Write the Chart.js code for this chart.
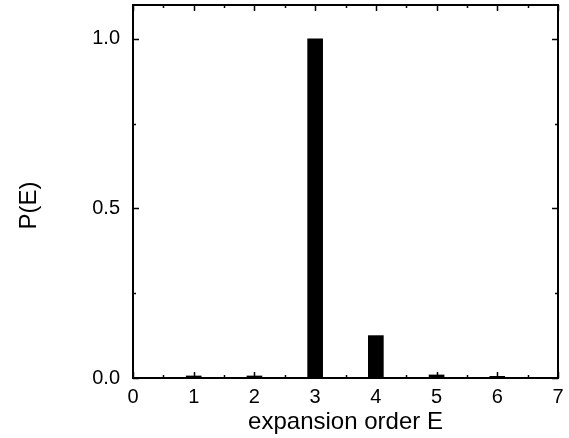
<!DOCTYPE html>
<html>
<head>
<meta charset="utf-8">
<script src="https://cdn.jsdelivr.net/npm/chart.js@4/dist/chart.umd.min.js"></script>
<style>
html,body{margin:0;padding:0;background:#fff;}
canvas{display:block;}
</style>
</head>
<body>
<canvas id="c" width="569" height="438"></canvas>
<script>
const categories = [1, 2, 3, 4, 5, 6];
const probabilities = [0.006, 0.006, 1.0, 0.125, 0.009, 0.005];
const xTickValues = [0, 1, 2, 3, 4, 5, 6, 7];
const yTickValues = [0, 0.5, 1.0];
const xTitle = 'expansion order E';
const yTitle = 'P(E)';

const FONT = "'Liberation Sans', Arial, Helvetica, sans-serif";

const frameTicks = {
  id: 'frameTicks',
  afterDraw(chart) {
    const {ctx, chartArea: a, scales: {x, y}} = chart;
    ctx.save();
    ctx.strokeStyle = '#000';
    ctx.lineWidth = 1.5;
    const major = 6, minor = 3;
    ctx.beginPath();
    for (let v = x.min; v <= x.max + 1e-9; v += 0.5) {
      const isMajor = Math.abs(v - Math.round(v)) < 1e-9;
      const len = isMajor ? major : minor;
      const px = Math.round(x.getPixelForValue(v)) + 0.5;
      ctx.moveTo(px, a.bottom); ctx.lineTo(px, a.bottom - len);
      ctx.moveTo(px, a.top); ctx.lineTo(px, a.top + len);
    }
    for (let v = 0; v <= y.max + 1e-9; v += 0.25) {
      const isMajor = Math.abs(v * 2 - Math.round(v * 2)) < 1e-9;
      const len = isMajor ? major : minor;
      const py = Math.round(y.getPixelForValue(v)) + 0.5;
      ctx.moveTo(a.left, py); ctx.lineTo(a.left + len, py);
      ctx.moveTo(a.right, py); ctx.lineTo(a.right - len, py);
    }
    ctx.stroke();
    ctx.lineWidth = 2;
    ctx.strokeRect(a.left, a.top, a.right - a.left, a.bottom - a.top);
    // y-axis title, rotated
    ctx.fillStyle = '#000';
    ctx.font = '24px ' + FONT;
    ctx.textAlign = 'center';
    ctx.textBaseline = 'middle';
    ctx.translate(29, y.getPixelForValue(0.5) - 3);
    ctx.rotate(-Math.PI / 2);
    ctx.fillText(yTitle, 0, 0);
    ctx.restore();
  }
};

new Chart(document.getElementById('c'), {
  type: 'bar',
  data: {
    datasets: [{
      data: categories.map((c, i) => ({x: c, y: probabilities[i]})),
      backgroundColor: '#000',
      borderWidth: 0,
      barThickness: 15
    }]
  },
  options: {
    responsive: false,
    animation: false,
    devicePixelRatio: 1,
    layout: {padding: {left: 0, right: 11, top: 5, bottom: 0}},
    plugins: {legend: {display: false}, tooltip: {enabled: false}},
    scales: {
      x: {
        type: 'linear',
        offset: false,
        min: 0, max: 7,
        afterBuildTicks(s) { s.ticks = xTickValues.map(v => ({value: v})); },
        afterFit(s) { s.height = 60; s.paddingLeft = 0; s.paddingRight = 0; },
        grid: {display: false, drawTicks: false, offset: false},
        border: {display: false},
        ticks: {
          color: '#000',
          padding: 7,
          font: {family: FONT, size: 20},
          callback: v => String(v),
          maxRotation: 0
        },
        title: {
          display: true, text: xTitle, color: '#000',
          font: {family: FONT, size: 24},
          padding: {top: 0, bottom: 1}
        }
      },
      y: {
        min: 0, max: 1.1,
        afterBuildTicks(s) { s.ticks = yTickValues.map(v => ({value: v})); },
        afterFit(s) { s.width = 133; s.paddingTop = 0; s.paddingBottom = 0; },
        grid: {display: false, drawTicks: false},
        border: {display: false},
        ticks: {
          color: '#000',
          padding: 13,
          font: {family: FONT, size: 20},
          callback: v => Number(v).toFixed(1)
        },
        title: {display: false}
      }
    }
  },
  plugins: [frameTicks]
});
</script>
</body>
</html>
